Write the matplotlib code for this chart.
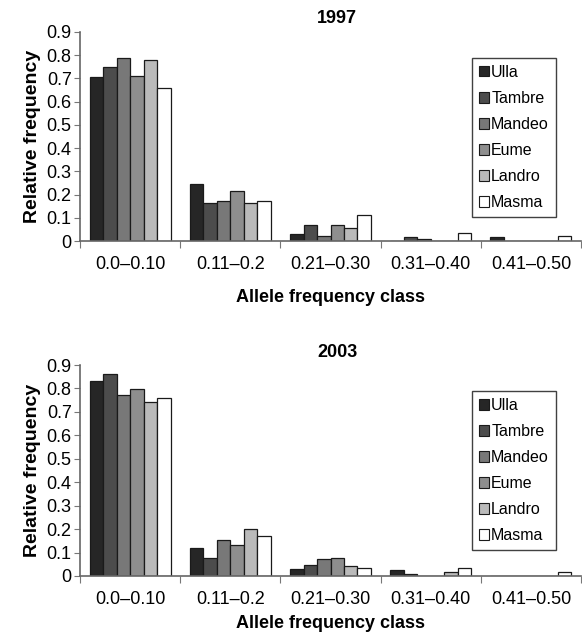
import matplotlib
matplotlib.use("Agg")
import matplotlib.pyplot as plt
import numpy as np
from matplotlib.patches import Patch

plt.rcParams['font.family'] = ['Liberation Sans', 'DejaVu Sans']

classes = ["0.0\u20130.10", "0.11\u20130.2", "0.21\u20130.30", "0.31\u20130.40", "0.41\u20130.50"]
rivers = ["Ulla", "Tambre", "Mandeo", "Eume", "Landro", "Masma"]
colors = ["#262626", "#4c4c4c", "#787878", "#8e8e8e", "#bababa", "#ffffff"]

vals_1997 = {
    "Ulla":   [0.705, 0.246, 0.029, 0.0,   0.016],
    "Tambre": [0.748, 0.162, 0.070, 0.016, 0.0],
    "Mandeo": [0.790, 0.172, 0.023, 0.010, 0.0],
    "Eume":   [0.711, 0.214, 0.070, 0.0,   0.0],
    "Landro": [0.780, 0.162, 0.055, 0.0,   0.0],
    "Masma":  [0.658, 0.172, 0.113, 0.036, 0.022],
}
vals_2003 = {
    "Ulla":   [0.832, 0.118, 0.028, 0.027, 0.0],
    "Tambre": [0.863, 0.077, 0.048, 0.010, 0.0],
    "Mandeo": [0.772, 0.155, 0.071, 0.0,   0.0],
    "Eume":   [0.799, 0.134, 0.077, 0.0,   0.0],
    "Landro": [0.741, 0.202, 0.044, 0.017, 0.0],
    "Masma":  [0.758, 0.170, 0.034, 0.033, 0.018],
}
yticks = [0, 0.1, 0.2, 0.3, 0.4, 0.5, 0.6, 0.7, 0.8, 0.9]
ytick_labels = ["0", "0.1", "0.2", "0.3", "0.4", "0.5", "0.6", "0.7", "0.8", "0.9"]

W, H = 582, 633
fig = plt.figure(figsize=(W / 100, H / 100), dpi=100)

def make_axes(top_px, bottom_px):
    left = 80 / W
    right = 581 / W
    return fig.add_axes([left, 1 - bottom_px / H, right - left, (bottom_px - top_px) / H])

def draw(ax, data, title, title_pad):
    x = np.arange(len(classes))
    bw = 0.1345
    n = len(rivers)
    for i, r in enumerate(rivers):
        off = (i - (n - 1) / 2) * bw
        ax.bar(x + off, data[r], width=bw, color=colors[i], edgecolor="#1a1a1a",
               linewidth=0.9, label=r, zorder=2)
    ax.set_xlim(-0.5, 4.5)
    ax.set_ylim(0, 0.9)
    ax.set_yticks(yticks)
    ax.set_yticklabels(ytick_labels, fontsize=13)
    ax.set_xticks(x)
    ax.set_xticklabels(classes, fontsize=13)
    ax.set_xticks(np.arange(-0.5, 5.0, 1.0), minor=True)
    ax.tick_params(axis="x", which="major", length=0, pad=11)
    ax.tick_params(axis="x", which="minor", length=5, width=0.8, color="#777777", direction="out")
    ax.tick_params(axis="y", length=4, width=0.8, color="#777777", direction="out", pad=2)
    for s in ["top", "right"]:
        ax.spines[s].set_visible(False)
    for s in ["left", "bottom"]:
        ax.spines[s].set_color("#666666")
        ax.spines[s].set_linewidth(1.2)
    ax.set_ylabel("Relative frequency", fontsize=14, fontweight="bold", labelpad=4)
    ax.set_title(title, fontsize=13, fontweight="bold", pad=title_pad, x=0.513)
    handles = [Patch(facecolor=colors[i], edgecolor="#1a1a1a", linewidth=0.8) for i in range(n)]
    leg = ax.legend(handles, rivers, loc="upper right", bbox_to_anchor=(0.950, 0.876),
                    fontsize=11.5, frameon=True, fancybox=False, edgecolor="#111111",
                    handlelength=0.62, handleheight=0.62, handletextpad=0.13,
                    labelspacing=0.69, borderpad=0.44, borderaxespad=0)
    leg.get_frame().set_linewidth(1.0)

ax1 = make_axes(32, 241)
draw(ax1, vals_1997, "1997", 6.5)
ax1.set_xlabel("Allele frequency class", fontsize=13, fontweight="bold", labelpad=11)

ax2 = make_axes(365, 576)
draw(ax2, vals_2003, "2003", 6)
ax2.set_xlabel("Allele frequency class", fontsize=13, fontweight="bold", labelpad=5)

fig.savefig("out.png", dpi=100)
